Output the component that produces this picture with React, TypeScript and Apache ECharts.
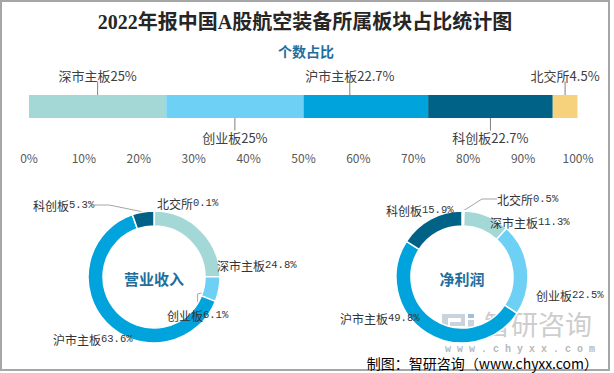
import React, { useEffect, useRef } from 'react';
import * as echarts from 'echarts';

const TITLE = '2022年报中国A股航空装备所属板块占比统计图';
const BAR_TITLE = '个数占比';
const BAR_CATEGORIES = ['深市主板', '创业板', '沪市主板', '科创板', '北交所'];
const BAR_VALUES = [25, 25, 22.7, 22.7, 4.5];
const PIE_CATEGORIES = ['北交所', '深市主板', '创业板', '沪市主板', '科创板'];
const REVENUE_VALUES = [0.1, 24.8, 6.1, 63.6, 5.3];
const PROFIT_VALUES = [0.5, 11.3, 22.5, 49.8, 15.9];
const PIE_TITLES = ['营业收入', '净利润'];
const SOURCE_PREFIX = '制图：智研咨询（';
const SOURCE_URL = 'www.chyxx.com';
const SOURCE_SUFFIX = '）';
const WATERMARK = '智研咨询';
const WATERMARK_URL = 'w w w . c h y x x . c o m';

const COLORS: Record<string, string> = {
  深市主板: '#A3D8D6',
  创业板: '#6ED0F5',
  沪市主板: '#00A3DC',
  科创板: '#016287',
  北交所: '#F5D27B',
};

// label placement (style config)
const BAR_LABEL_SIDE = ['top', 'bottom', 'top', 'bottom', 'top'];
const BAR_LABEL_DX = [0, 0, -16, 0, 0];
const PIE_CENTERS = [
  [154, 277],
  [462, 277],
];
const REVENUE_LABEL_POS = [
  [3, -74],
  [63, -12],
  [13, 38],
  [-101, 62],
  [-121, -72],
];
const PROFIT_LABEL_POS = [
  [35, -78],
  [28, -55],
  [74, 18],
  [-122, 41],
  [-76, -67],
];
const REVENUE_GUIDES = [false, false, true, false, true];
const PROFIT_GUIDES = [true, false, false, false, false];

const SANS = "'Noto Sans CJK SC', 'Noto Sans', sans-serif";
const SERIF = "'Liberation Serif', 'DejaVu Serif', 'Noto Sans CJK SC', serif";
const MONO = "'Liberation Mono', 'DejaVu Sans Mono', monospace";

export default function App() {
  const ref = useRef<HTMLDivElement>(null);

  useEffect(() => {
    const chart = echarts.init(ref.current!, null, { renderer: 'svg' });

    const barSeries = BAR_CATEGORIES.map((name, i) => ({
      name,
      type: 'bar',
      stack: 'total',
      barCategoryGap: '0%',
      data: [BAR_VALUES[i]],
      itemStyle: { color: COLORS[name] },
      emphasis: { disabled: true },
      label: {
        show: true,
        position: BAR_LABEL_SIDE[i],
        formatter: '{a}{c}%',
        color: '#404040',
        fontFamily: SANS,
        fontSize: 13,
      },
      labelLine: { show: true, lineStyle: { color: '#7F7F7F', width: 1 } },
      labelLayout: (p: any) => ({
        x: p.rect.x + p.rect.width / 2 + BAR_LABEL_DX[i],
        y: BAR_LABEL_SIDE[i] === 'top' ? p.rect.y - 20 : p.rect.y + p.rect.height + 19,
        align: 'center',
        verticalAlign: 'middle',
      }),
    }));

    const makePie = (values: number[], idx: number, pos: number[][], guides: boolean[]) => {
      const center = PIE_CENTERS[idx];
      return {
        type: 'pie',
        center,
        radius: [51, 66],
        startAngle: 90,
        clockwise: true,
        avoidLabelOverlap: false,
        emphasis: { disabled: true },
        itemStyle: { borderColor: '#fff', borderWidth: 1.5 },
        label: {
          show: true,
          position: 'outside',
          formatter: (p: any) => `{n|${p.name}}{v|${p.value}%}`,
          rich: {
            n: { fontFamily: SANS, fontSize: 12, color: '#333' },
            v: { fontFamily: MONO, fontSize: 10.5, color: '#333' },
          },
        },
        labelLine: { show: true, length2: 15, lineStyle: { color: '#A6A6A6', width: 1 } },
        labelLayout: (p: any) => ({
          x: center[0] + pos[p.dataIndex][0],
          y: center[1] + pos[p.dataIndex][1],
          align: 'left',
          verticalAlign: 'middle',
        }),
        data: PIE_CATEGORIES.map((name, i) => ({
          name,
          value: values[i],
          itemStyle: { color: COLORS[name] },
          labelLine: { show: guides[i] },
        })),
      };
    };

    const logoColor = '#BFCBD8';
    const option: any = {
      animation: false,
      backgroundColor: '#fff',
      grid: { left: 29, right: 36, top: 95, height: 23, containLabel: false },
      xAxis: {
        type: 'value',
        min: 0,
        max: 100,
        interval: 10,
        axisLine: { show: false },
        axisTick: { show: false },
        splitLine: { show: false },
        axisLabel: {
          formatter: '{value}%',
          margin: 33,
          color: '#595959',
          fontFamily: SANS,
          fontSize: 12,
        },
      },
      yAxis: { type: 'category', data: [BAR_TITLE], show: false },
      series: [
        ...barSeries,
        makePie(REVENUE_VALUES, 0, REVENUE_LABEL_POS, REVENUE_GUIDES),
        makePie(PROFIT_VALUES, 1, PROFIT_LABEL_POS, PROFIT_GUIDES),
      ],
      graphic: [
        {
          type: 'rect',
          silent: true,
          shape: { x: 1, y: 1, width: 608, height: 369 },
          style: { fill: 'none', stroke: '#A6A6A6', lineWidth: 2 },
        },
        {
          type: 'text',
          x: 305,
          y: 22,
          style: {
            text: TITLE,
            fontFamily: SERIF,
            fontSize: 20,
            fontWeight: 'bold',
            fill: '#262626',
            align: 'center',
            verticalAlign: 'middle',
            textAlign: 'center',
            textVerticalAlign: 'middle',
          },
        },
        {
          type: 'text',
          x: 306,
          y: 51,
          style: {
            text: BAR_TITLE,
            fontFamily: SANS,
            fontSize: 14,
            fontWeight: 'bold',
            fill: '#1F6E9C',
            align: 'center',
            verticalAlign: 'middle',
            textAlign: 'center',
            textVerticalAlign: 'middle',
          },
        },
        ...PIE_TITLES.map((t, i) => ({
          type: 'text',
          x: PIE_CENTERS[i][0],
          y: PIE_CENTERS[i][1] + 1,
          style: {
            text: t,
            fontFamily: SANS,
            fontSize: 15,
            fontWeight: 'bold',
            fill: '#1F6E9C',
            align: 'center',
            verticalAlign: 'middle',
            textAlign: 'center',
            textVerticalAlign: 'middle',
          },
        })),
        {
          type: 'group',
          z: 100,
          silent: true,
          children: [
            { type: 'rect', shape: { x: 442, y: 314, width: 6, height: 20 }, style: { fill: logoColor, opacity: 0.85 } },
            { type: 'rect', shape: { x: 448, y: 314, width: 17, height: 4 }, style: { fill: logoColor, opacity: 0.85 } },
            { type: 'rect', shape: { x: 461, y: 318, width: 4, height: 8 }, style: { fill: logoColor, opacity: 0.85 } },
            { type: 'rect', shape: { x: 450, y: 322, width: 11, height: 4 }, style: { fill: logoColor, opacity: 0.85 } },
            { type: 'rect', shape: { x: 450, y: 329, width: 8, height: 5 }, style: { fill: logoColor, opacity: 0.85 } },
            { type: 'rect', shape: { x: 468, y: 314, width: 6, height: 4 }, style: { fill: '#8FB3D5', opacity: 0.85 } },
            { type: 'rect', shape: { x: 468, y: 320, width: 6, height: 14 }, style: { fill: logoColor, opacity: 0.85 } },
            {
              type: 'text',
              x: 538,
              y: 323,
              style: {
                text: WATERMARK,
                fontFamily: SANS,
                fontSize: 27,
                fill: '#C4C4C4',
                opacity: 0.85,
                align: 'center',
                verticalAlign: 'middle',
                textAlign: 'center',
                textVerticalAlign: 'middle',
              },
            },
          ],
        },
        {
          type: 'text',
          z: 102,
          silent: true,
          x: 520,
          y: 349,
          style: {
            text: WATERMARK_URL,
            font: "bold 10px 'Liberation Mono', monospace",
            fontFamily: MONO,
            fontSize: 10,
            fontWeight: 'bold',
            fill: '#B8B8B8',
            align: 'center',
            verticalAlign: 'middle',
            textAlign: 'center',
            textVerticalAlign: 'middle',
          },
        },
        {
          type: 'text',
          z: 101,
          x: 598,
          y: 363,
          style: {
            text: `{a|${SOURCE_PREFIX}}{b|${SOURCE_URL}}{a|${SOURCE_SUFFIX}}`,
            rich: {
              a: { fontFamily: SANS, fontSize: 14, color: '#262626' },
              b: { fontFamily: SANS, fontSize: 14, color: '#1F3864' },
            },
            align: 'right',
            verticalAlign: 'middle',
            textAlign: 'right',
            textVerticalAlign: 'middle',
          },
        },
      ],
    };

    chart.setOption(option);
    return () => chart.dispose();
  }, []);

  return (
    <div
      ref={ref}
      style={{ position: 'absolute', left: 0, top: 0, width: 614, height: 373, background: '#fff' }}
    />
  );
}
